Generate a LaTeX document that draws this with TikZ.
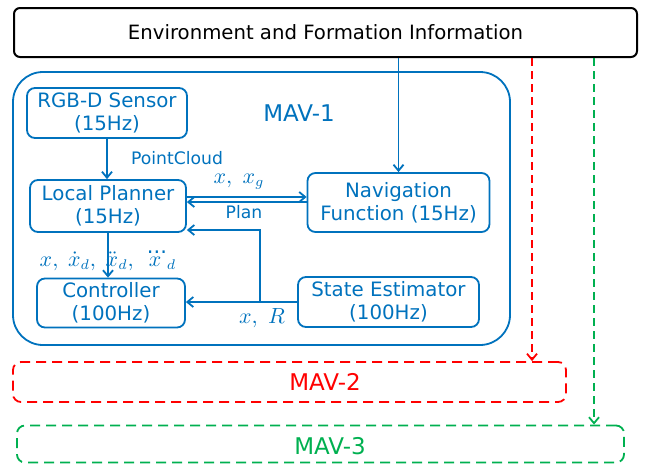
\documentclass[tikz,border=0pt]{standalone}
\usepackage{amsmath}
\usepackage{fontspec}
\setmainfont{DejaVu Sans}
\usepackage{tikz}
\usetikzlibrary{arrows.meta}
\usepackage{xcolor}
\definecolor{mavblue}{RGB}{0,114,189}
\definecolor{mavred}{RGB}{255,0,0}
\definecolor{mavgreen}{RGB}{0,176,80}

\begin{document}
\begin{tikzpicture}[x=0.5pt, y=-0.5pt,
    >={Straight Barb[length=3pt,width=5pt]},
    blkbox/.style={draw=mavblue, text=mavblue, line width=0.9pt, rounded corners=4pt,
      align=center, inner sep=1pt, font=\fontsize{9.9}{11.5}\selectfont},
    lbl/.style={text=mavblue, inner sep=1pt, font=\fontsize{8.6}{10}\selectfont},
    mathlbl/.style={text=mavblue, inner sep=1pt, font=\fontsize{10.5}{12}\selectfont},
    mavbox/.style={line width=0.9pt, dash pattern=on 5pt off 3pt, rounded corners=4pt},
    mavtext/.style={font=\fontsize{11.5}{13}\selectfont},
    flow/.style={->, draw=mavblue, line width=0.9pt}]
  \useasboundingbox (0,0) rectangle (648,466);

  % top information box
  \node[draw=black, line width=1pt, rounded corners=3pt, minimum width=311.5pt,
    minimum height=24.5pt, font=\fontsize{9.85}{12}\selectfont] (env) at (325.5,32.5)
    {Environment and Formation Information};

  % MAV-1 container
  \draw[draw=mavblue, line width=0.9pt, rounded corners=15pt] (13,72) rectangle (510,345);
  \node[mavtext, text=mavblue] (mav1) at (299,113) {MAV-1};

  \node[blkbox, minimum width=80pt, minimum height=25pt] (rgbd) at (107,113)
    {RGB-D Sensor\\(15Hz)};
  \node[blkbox, minimum width=78pt, minimum height=26pt] (lp) at (108,206)
    {Local Planner\\(15Hz)};
  \node[blkbox, minimum width=74pt, minimum height=24.5pt] (ctrl) at (111,303)
    {Controller\\(100Hz)};
  \node[blkbox, minimum width=91pt, minimum height=29.5pt] (nav) at (398.5,202.5)
    {Navigation\\Function (15Hz)};
  \node[blkbox, minimum width=90.5pt, minimum height=25pt] (se) at (388.5,302)
    {State Estimator\\(100Hz)};

  % other MAVs
  \node[mavbox, draw=mavred, minimum width=276.5pt, minimum height=20pt]
    (mav2) at (289.5,382) {};
  \node[mavtext, text=mavred] (mav2txt) at (325,382) {MAV-2};
  \node[mavbox, draw=mavgreen, minimum width=303.5pt, minimum height=18.5pt]
    (mav3) at (320.5,444) {};
  \node[mavtext, text=mavgreen] (mav3txt) at (330,446) {MAV-3};

  % connectors
  \draw[flow] (rgbd.south) -- (rgbd.south |- lp.north);
  \draw[flow] (lp.south) -- (lp.south |- ctrl.north);
  \draw[flow] (lp.east |- 0,197) -- (nav.west |- 0,197);
  \draw[flow] (nav.west |- 0,202) -- (lp.east |- 0,202);
  \draw[flow] (env.south -| nav.north) -- (nav.north);
  \draw[flow] (se.west) -- (se.west -| ctrl.east);
  \coordinate (br) at (se.west -| 260,0);
  \draw[flow] (br) |- (lp.east |- 0,230);
  \draw[->, draw=mavred, line width=0.9pt, dash pattern=on 4pt off 2.5pt]
    (env.south -| 532,0) -- (mav2.north -| 532,0);
  \draw[->, draw=mavgreen, line width=0.9pt, dash pattern=on 4pt off 2.5pt]
    (env.south -| 594,0) -- (mav3.north -| 594,0);

  % labels
  \node[lbl] (pc) at (177,158) {PointCloud};
  \node[mathlbl] (xg) at (239,182) {$x,\ x_g$};
  \node[lbl] (plan) at (244,212) {Plan};
  \node[mathlbl] (xr) at (262,318) {$x,\ R$};
  \node[mathlbl] (deriv) at (108,261) {$x,\;\dot{x}_d,\;\ddot{x}_d,\;\dddot{x}_d$};
\end{tikzpicture}
\end{document}
